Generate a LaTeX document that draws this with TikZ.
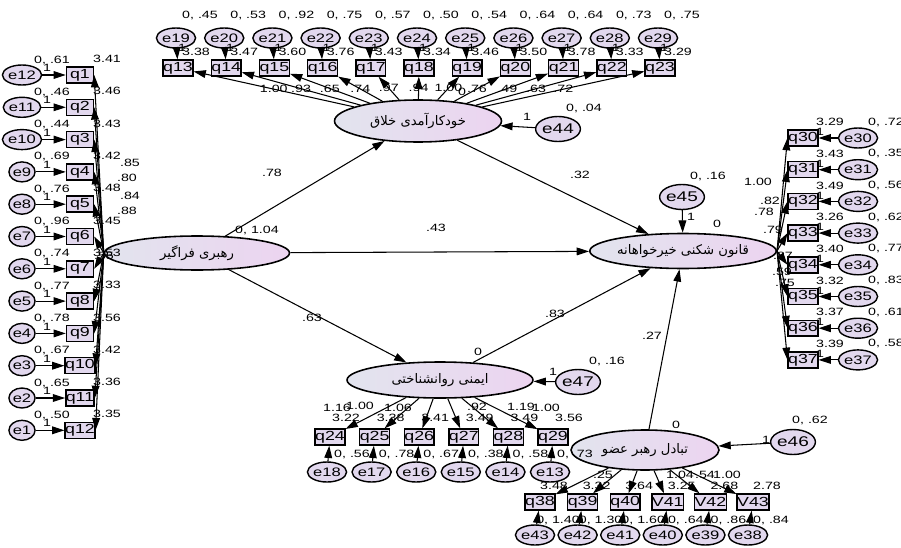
\documentclass[tikz,border=0pt]{standalone}
\usepackage{fontspec}
\setmainfont{Liberation Sans}
\newfontfamily\numfont[FakeStretch=1.35]{Liberation Sans}
\newfontfamily\arabicfont[Script=Arabic]{DejaVu Sans}
\TeXXeTstate=1
\usetikzlibrary{positioning}
\usetikzlibrary{shapes}
\usetikzlibrary{arrows.meta}
\definecolor{lavgray}{RGB}{226,228,238}
\definecolor{lavpink}{RGB}{236,212,240}
\definecolor{lavbox}{RGB}{226,216,238}
\newcommand\colleft{80}
\newcommand\errleft{22}
\newcommand\rowtop{75}
\newcommand\rowstep{32.3}
\newcommand\topy{68}
\newcommand\toperry{38}
\newcommand\colright{803}
\newcommand\errright{858}
\newcommand\psyy{437}
\newcommand\lmxy{502}
\tikzset{
  latent/.style={ellipse, draw, line width=0.9pt, left color=lavgray, right color=lavpink, inner sep=0pt, font=\arabicfont\fontsize{7.5}{8}\selectfont},
  obs/.style={rectangle, draw, line width=0.8pt, fill=lavbox, minimum width=0.54cm, minimum height=0.32cm, inner sep=0pt, font=\numfont\fontsize{7.5}{8}\selectfont},
  err/.style={ellipse, draw, line width=0.8pt, fill=lavbox, minimum width=0.5cm, minimum height=0.4cm, inner sep=0pt, font=\numfont\fontsize{7}{8}\selectfont},
  bigerr/.style={err, minimum width=0.72cm, minimum height=0.5cm, font=\numfont\fontsize{8}{9}\selectfont},
  num/.style={font=\numfont\fontsize{6}{7}\selectfont, inner sep=0pt},
  pth/.style={->, >={Triangle[length=7pt, width=4.4pt]}, line width=0.6pt}
}

\begin{document}
\begin{tikzpicture}[x=0.02cm, y=-0.02cm]
  \useasboundingbox (0,0) rectangle (901,547);
  % --- Latent variables
  \node[latent, minimum width=3.7cm, minimum height=0.68cm] (lead) at (197,253) {\beginR رهبری فراگیر\endR};
  \node[latent, minimum width=3.34cm, minimum height=0.84cm] (cse) at (418,121) {\beginR خودکارآمدی خلاق\endR};
  \node[latent, minimum width=3.4cm, minimum height=0.7cm] (prb) at (683,251) {\beginR قانون شکنی خیرخواهانه\endR};
  \node[latent, minimum width=3.72cm, minimum height=0.72cm] (psy) at (440,380) {\beginR ایمنی روانشناختی\endR};
  \node[latent, minimum width=2.96cm, minimum height=0.8cm] (lmx) at (645,450) {\beginR تبادل رهبر عضو\endR};
  % --- Disturbances
  \node[bigerr] (e44) at (558,129) {e44};
  \node[bigerr] (e45) at (682,197) {e45};
  \node[bigerr] (e46) at (793,442) {e46};
  \node[bigerr] (e47) at (578,382) {e47};
  \draw[pth] (e44) -- (cse);
  \draw[pth] (e45) -- (prb);
  \draw[pth] (e46) -- (lmx);
  \draw[pth] (e47) -- (psy);
  \node[num] at (527,117) {1};
  \node[num] at (691,217) {1};
  \node[num] at (766,440) {1};
  \node[num] at (553,372) {1};
  \node[num] at (584,108) {0, .04};
  \node[num] at (708,176) {0, .16};
  \node[num] at (810,420) {0, .62};
  \node[num] at (607,361) {0, .16};
  \node[num] at (257,230) {0, 1.04};
  \node[num] at (462,92) {0};
  \node[num] at (717,224) {0};
  \node[num] at (478,352) {0};
  \node[num] at (676,425) {0};
  % --- Structural paths
  \draw[pth] (lead) -- (cse);
  \draw[pth] (lead) -- (prb);
  \draw[pth] (lead) -- (psy);
  \draw[pth] (cse) -- (prb);
  \draw[pth] (psy) -- (prb);
  \draw[pth] (lmx) -- (prb);
  \node[num] at (272,173) {.78};
  \node[num] at (436,228) {.43};
  \node[num] at (312,318) {.63};
  \node[num] at (580,175) {.32};
  \node[num] at (555,314) {.83};
  \node[num] at (652,336) {.27};
  % --- Left indicators
  \foreach \i/\en/\var/\ic [evaluate=\i as \yy using \rowtop+\rowstep*(\i-1)] in
    {1/12/.61/3.41, 2/11/.46/3.46, 3/10/.44/3.43, 4/9/.69/3.42, 5/8/.76/3.48, 6/7/.96/3.45,
     7/6/.74/3.53, 8/5/.77/3.33, 9/4/.78/3.56, 10/3/.67/3.42, 11/2/.65/3.36, 12/1/.50/3.35} {
    \node[obs] (q\i) at (\colleft,\yy) {q\i};
    \node[err] (e\en) at (\errleft,\yy) {e\en};
    \draw[pth] (e\en) -- (q\i);
    \draw[pth] (lead.west) -- (q\i.east);
    \node[num] at (52,\yy-15) {0, \var};
    \node[num] at (47,\yy-7) {1};
    \node[num] at (107,\yy-16) {\ic};
  }
  \node[num] at (130,163) {.85};
  \node[num] at (127,178) {.80};
  \node[num] at (130,196) {.84};
  \node[num] at (127,211) {.88};
  \node[num] at (104,256) {.55};
  % --- Top indicators
  \foreach \j/\en/\var/\ic/\lam [evaluate=\j as \xx using 178+48.2*(\j-13)] in
    {13/19/.45/3.38/1.00, 14/20/.53/3.47/.93, 15/21/.92/3.60/.65, 16/22/.75/3.76/.74,
     17/23/.57/3.43/.97, 18/24/.50/3.34/.94, 19/25/.54/3.46/1.00, 20/26/.64/3.50/.76,
     21/27/.64/3.78/.49, 22/28/.73/3.33/.63, 23/29/.75/3.29/.72} {
    \node[obs] (q\j) at (\xx,\topy) {q\j};
    \node[err] (e\en) at (\xx-2,\toperry) {e\en};
    \draw[pth] (e\en) -- (q\j);
    \draw[pth] (cse) -- (q\j) node[num, pos=.5] {\lam};
    \node[num] at (\xx+22,15) {0, \var};
    \node[num] at (\xx+4,48) {1};
    \node[num] at (\xx+18,52) {\ic};
  }
  % --- Right indicators
  \foreach \i/\var/\ic [evaluate=\i as \yy using 138+31.7*(\i-30)] in
    {30/.72/3.29, 31/.35/3.43, 32/.56/3.49, 33/.62/3.26, 34/.77/3.40, 35/.83/3.32, 36/.61/3.37, 37/.58/3.39} {
    \node[obs] (q\i) at (\colright,\yy) {q\i};
    \node[err] (e\i) at (\errright,\yy) {e\i};
    \draw[pth] (e\i) -- (q\i);
    \draw[pth] (prb.east) -- (q\i.west);
    \node[num] at (830,\yy-16) {\ic};
    \node[num] at (820,\yy-6) {1};
    \node[num] at (886,\yy-16) {0, \var};
  }
  \node[num] at (758,182) {1.00};
  \node[num] at (770,201) {.82};
  \node[num] at (764,212) {.78};
  \node[num] at (773,230) {.79};
  \node[num] at (783,256) {.87};
  \node[num] at (782,272) {.59};
  \node[num] at (785,283) {.75};
  % --- Psychological safety indicators
  \foreach \i/\en/\var/\ic [evaluate=\i as \xx using 330+44.6*(\i-24)] in
    {24/18/.56/3.22, 25/17/.78/3.38, 26/16/.67/3.41, 27/15/.38/3.49, 28/14/.58/3.49, 29/13/.73/3.56} {
    \node[obs] (q\i) at (\xx,\psyy) {q\i};
    \node[err] (e\en) at (\xx-3,472) {e\en};
    \draw[pth] (e\en) -- (q\i);
    \draw[pth] (psy) -- (q\i);
    \node[num] at (\xx+22,454) {0, \var};
    \node[num] at (\xx+16,418) {\ic};
  }
  \node[num] at (337,408) {1.16};
  \node[num] at (360,406) {1.00};
  \node[num] at (398,408) {1.06};
  \node[num] at (477,407) {.92};
  \node[num] at (521,407) {1.19};
  \node[num] at (546,408) {1.00};
  % --- LMX indicators
  \foreach \i/\txt/\en/\var/\ic [evaluate=\i as \xx using 540+42.6*(\i-38)] in
    {38/q38/43/1.40/3.48, 39/q39/42/1.30/3.32, 40/q40/41/1.60/3.64, 41/V41/40/.64/3.25, 42/V42/39/.86/2.68, 43/V43/38/.84/2.78} {
    \node[obs] (q\i) at (\xx,\lmxy) {\txt};
    \node[err] (e\en) at (\xx-5,535) {e\en};
    \draw[pth] (e\en) -- (q\i);
    \draw[pth] (lmx) -- (q\i);
    \node[num] at (\xx+18,520) {0, \var};
    \node[num] at (\xx+14,486) {\ic};
  }
  \node[num] at (603,475) {.25};
  \node[num] at (680,475) {1.04};
  \node[num] at (705,475) {.54};
  \node[num] at (727,475) {1.00};
\end{tikzpicture}
\end{document}
